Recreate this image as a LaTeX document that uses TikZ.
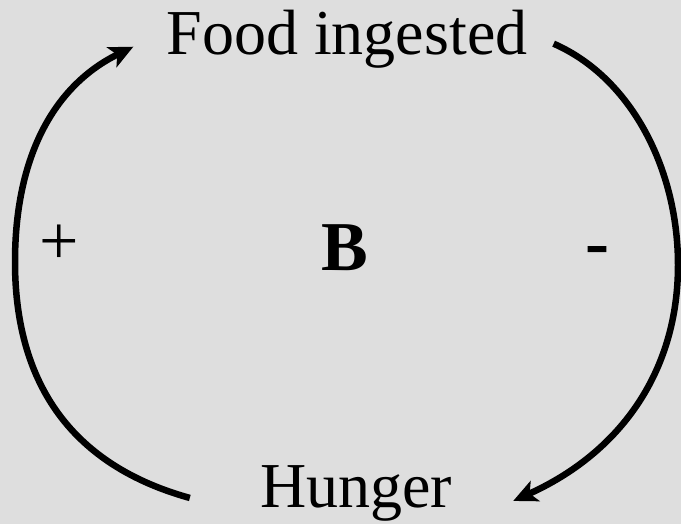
\documentclass[tikz,border=0pt]{standalone}
\usepackage{fontspec}
\setmainfont{Liberation Serif}
\usetikzlibrary{arrows.meta}
\definecolor{granite}{RGB}{222,222,222}

\begin{document}
\begin{tikzpicture}[x=1pt, y=-1pt,
    word/.style={inner sep=0pt, font=\fontsize{64}{70}\selectfont},
    arr/.style={-{Stealth[length=24pt, width=22pt, inset=6pt]}, line width=6.5pt}
]
\fill[granite] (0,0) rectangle (681,524);
\useasboundingbox (0,0) rectangle (681,524);

\node[word, anchor=base] (food) at (347,55) {Food ingested};
\node[word, anchor=base] (hunger) at (356,507) {Hunger};
\node[inner sep=0pt, font=\fontsize{70}{76}\selectfont\bfseries, anchor=base] (loop) at (345,270) {B};
\node[word, font=\fontsize{70}{76}\selectfont] (plus) at (59,245) {+};
\node[word, font=\fontsize{72}{78}\selectfont\bfseries] (minus) at (597,256) {-};

% links
\draw[arr] ([xshift=-70pt, yshift=-5pt]hunger.west) .. controls (60,462) and (15,370) .. (15,262)
    .. controls (15,155) and (55,85) .. ([xshift=-33pt, yshift=-7pt]food.west);
\draw[arr] ([xshift=26pt, yshift=-4pt]food.east) .. controls (632,78) and (678,170) .. (678,265)
    .. controls (678,370) and (622,452) .. ([xshift=61pt, yshift=-8pt]hunger.east);
\end{tikzpicture}
\end{document}
